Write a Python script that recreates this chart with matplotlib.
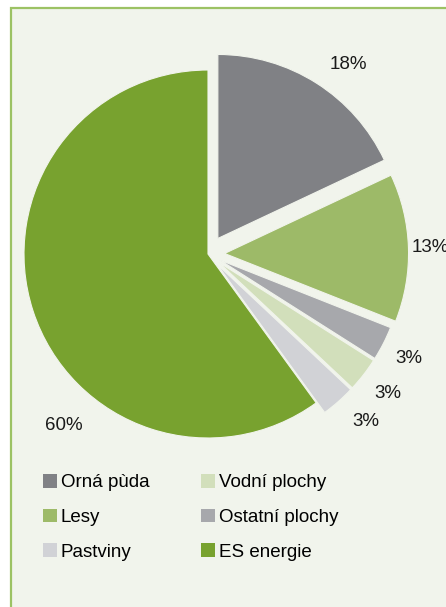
import matplotlib.pyplot as plt
from matplotlib.patches import Rectangle, Patch
import numpy as np

plt.rcParams['font.family'] = ['Liberation Sans', 'DejaVu Sans']

# slices clockwise from 12 o'clock
labels = ['Orná pùda', 'Lesy', 'Ostatní plochy', 'Vodní plochy', 'Pastviny', 'ES energie']
values = [18, 13, 3, 3, 3, 60]
colors = ['#808185', '#9dba68', '#a7a8ac', '#d2dfbb', '#d1d2d6', '#78a22f']
explode = [0.1, 0.09, 0.07, 0.07, 0.07, 0.0]

# legend order (two columns)
legend_order = ['Orná pùda', 'Lesy', 'Pastviny', 'Vodní plochy', 'Ostatní plochy', 'ES energie']

W, H = 446, 607
bg = '#f1f4ec'
fig = plt.figure(figsize=(W / 100, H / 100), dpi=100)
fig.patch.set_facecolor('white')

# boxed panel
fig.patches.append(Rectangle((11 / W, -0.05), 1.1, 1 - 8 / H + 0.05,
                             transform=fig.transFigure, facecolor=bg,
                             edgecolor='#9cc264', lw=1.6, zorder=-5))

cx, cy, R, half = 208, 254, 182, 230
ax = fig.add_axes([(cx - half) / W, 1 - (cy + half) / H, 2 * half / W, 2 * half / H])
ax.set_zorder(2)
ax.set_xlim(-half / R, half / R)
ax.set_ylim(-half / R, half / R)
ax.set_aspect('equal')
ax.axis('off')

wedges, _ = ax.pie(values, colors=colors, explode=explode, startangle=90,
                   counterclock=False, radius=1.0,
                   wedgeprops=dict(edgecolor=bg, linewidth=0.8))

# percentage labels: angle (deg) and distance (in radii)
lab_ang = [53.4, 1.8, -27.6, -37.8, -46.8, -130]
lab_dist = [1.28, 1.21, 1.23, 1.24, 1.25, 1.22]
for v, a, d in zip(values, lab_ang, lab_dist):
    t = np.deg2rad(a)
    ax.text(d * np.cos(t), d * np.sin(t), f'{v}%', ha='center', va='center',
            fontsize=13.5, color='#1a1a1a', clip_on=False)

handles = [Patch(facecolor=colors[labels.index(l)], edgecolor='none') for l in legend_order]
leg = fig.legend(handles, legend_order, loc='upper left', ncol=2, frameon=False,
                 bbox_to_anchor=(43 / W, 1 - 474 / H), borderaxespad=0, borderpad=0,
                 fontsize=13.5, handlelength=0.75, handleheight=0.75,
                 handletextpad=0.2, columnspacing=2.75, labelspacing=0.92)
leg.set_zorder(3)

fig.savefig('out.png', dpi=100, facecolor=fig.get_facecolor())
